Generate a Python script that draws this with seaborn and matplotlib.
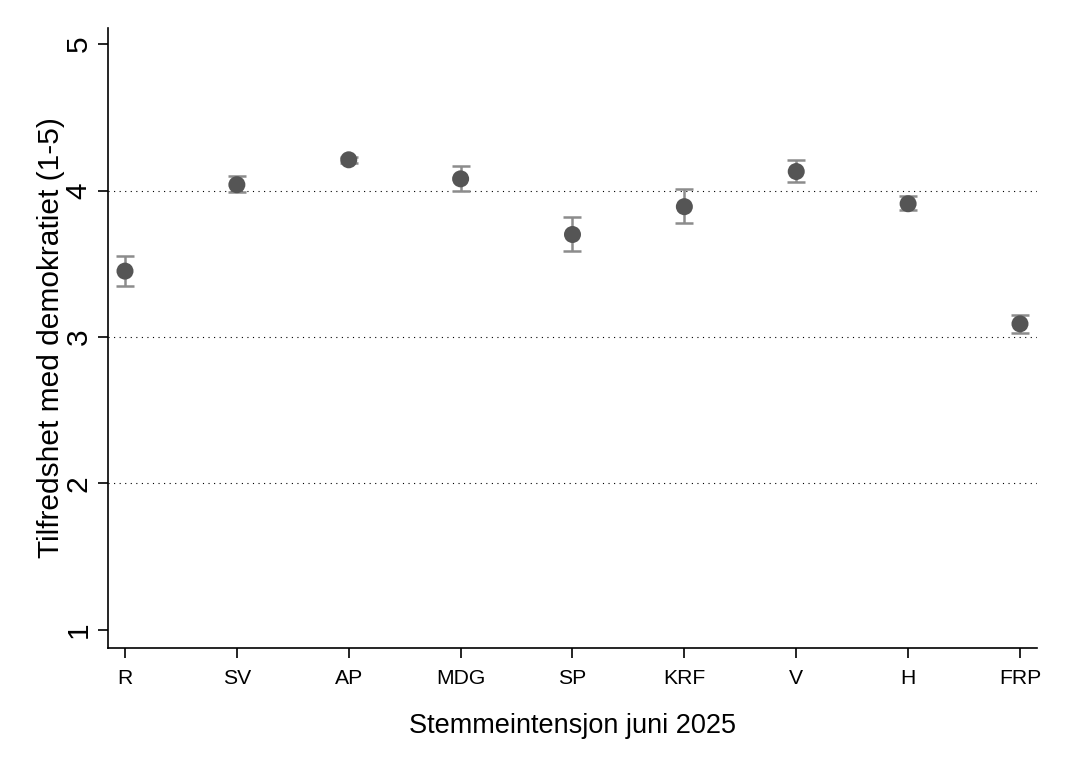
import pandas as pd
import matplotlib.pyplot as plt
import seaborn as sns

partier = ['R', 'SV', 'AP', 'MDG', 'SP', 'KRF', 'V', 'H', 'FRP']
snitt = [3.45, 4.04, 4.21, 4.08, 3.70, 3.89, 4.13, 3.91, 3.09]
nedre = [3.35, 3.99, 4.19, 4.00, 3.59, 3.78, 4.06, 3.87, 3.03]
ovre = [3.55, 4.10, 4.23, 4.17, 3.82, 4.01, 4.21, 3.96, 3.15]

df = pd.DataFrame({'parti': partier, 'snitt': snitt, 'nedre': nedre, 'ovre': ovre})
df['pos'] = range(len(df))

sns.set_style('ticks')
plt.rcParams['font.family'] = ['Liberation Sans', 'DejaVu Sans']
plt.rcParams['text.color'] = 'black'
plt.rcParams['axes.labelcolor'] = 'black'
plt.rcParams['xtick.color'] = 'black'
plt.rcParams['ytick.color'] = 'black'

fig = plt.figure(figsize=(10.65, 7.75), dpi=100)
ax = fig.add_axes([0.1014, 0.1639, 0.8723, 0.80])

# stiplede hjelpelinjer
for y in [2, 3, 4]:
    ax.axhline(y, color='black', linestyle=(0, (1, 4)), linewidth=0.8, zorder=0)

ax.errorbar(df['pos'], df['snitt'],
            yerr=[df['snitt'] - df['nedre'], df['ovre'] - df['snitt']],
            fmt='none', ecolor='#8c8c8c', elinewidth=1.8, capsize=6.5, capthick=1.8, zorder=2)
sns.scatterplot(x='pos', y='snitt', data=df, color='#555555', s=150,
                edgecolor='none', ax=ax, zorder=3)

ax.set_xlim(-0.152, 8.152)
ax.set_ylim(0.877, 5.11)
ax.set_xticks(df['pos'])
ax.set_xticklabels(partier, fontsize=15.2)
ax.set_yticks([1, 2, 3, 4, 5])
ax.set_yticklabels(['1', '2', '3', '4', '5'], fontsize=21.5, rotation=90, va='center')
ax.tick_params(axis='both', length=7, width=1.2, color='black')
ax.tick_params(axis='x', pad=8)
ax.tick_params(axis='y', pad=4)
ax.set_xlabel('Stemmeintensjon juni 2025', fontsize=19.5, labelpad=18)
ax.set_ylabel('Tilfredshet med demokratiet (1-5)', fontsize=21.5, labelpad=0)
for s in ['top', 'right']:
    ax.spines[s].set_visible(False)
for s in ['left', 'bottom']:
    ax.spines[s].set_linewidth(1.2)
    ax.spines[s].set_color('black')

fig.savefig('out.png', dpi=100)
